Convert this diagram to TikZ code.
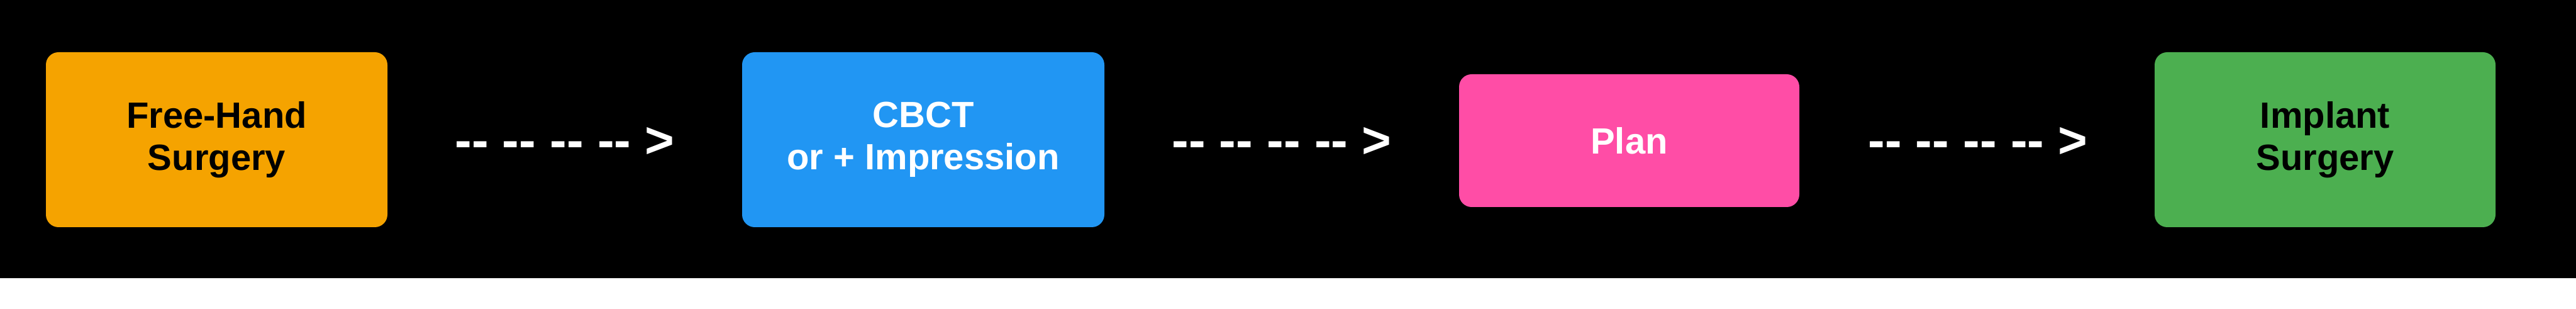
\documentclass[tikz,border=0pt]{standalone}
\usepackage{fontspec}
\setmainfont{Liberation Sans}
\newfontfamily\arrowfont{Liberation Sans}[Ligatures=TeXOff]

\definecolor{FreeOrange}{HTML}{F5A300}
\definecolor{CbctBlue}{HTML}{2196F3}
\definecolor{PlanPink}{HTML}{FF4DA6}
\definecolor{ImplantGreen}{HTML}{4CAF50}

\tikzset{
  stagebox/.style={rounded corners=0.2cm, inner sep=0pt, align=center,
    minimum height=2.78cm, font=\fontsize{16.5}{19.06}\selectfont\bfseries},
  dasharrow/.style={anchor=base, inner sep=0pt, text=white,
    font=\arrowfont\fontsize{22.8}{26}\selectfont\bfseries}
}

\begin{document}
\begin{tikzpicture}

\useasboundingbox (0,0) rectangle (40.96,4.91);
\fill [white] (0,0) rectangle (40.96,4.91);
\fill [black] (0,0.49) rectangle (40.96,4.91);

\path (3.445,2.69) coordinate (FreeC);
\path (14.68,2.69) coordinate (CbctC);
\path (25.905,2.675) coordinate (PlanC);
\path (36.97,2.69) coordinate (ImplantC);

\node [stagebox, fill=FreeOrange, text=black, minimum width=5.43cm] (FreeHand) at (FreeC) {Free-Hand\\Surgery};
\node [stagebox, fill=CbctBlue, text=white, minimum width=5.76cm] (Cbct) at (CbctC) {CBCT\\or + Impression};
\node [stagebox, fill=PlanPink, text=white, minimum width=5.41cm, minimum height=2.11cm] (Plan) at (PlanC) {Plan};
\node [stagebox, fill=ImplantGreen, text=black, minimum width=5.42cm] (Implant) at (ImplantC) {Implant\\Surgery};

\node [dasharrow] (ArrowA) at (8.98,2.40) {-- -- -- -- >};
\node [dasharrow] (ArrowB) at (20.38,2.40) {-- -- -- -- >};
\node [dasharrow] (ArrowC) at (31.45,2.40) {-- -- -- -- >};

\end{tikzpicture}
\end{document}
